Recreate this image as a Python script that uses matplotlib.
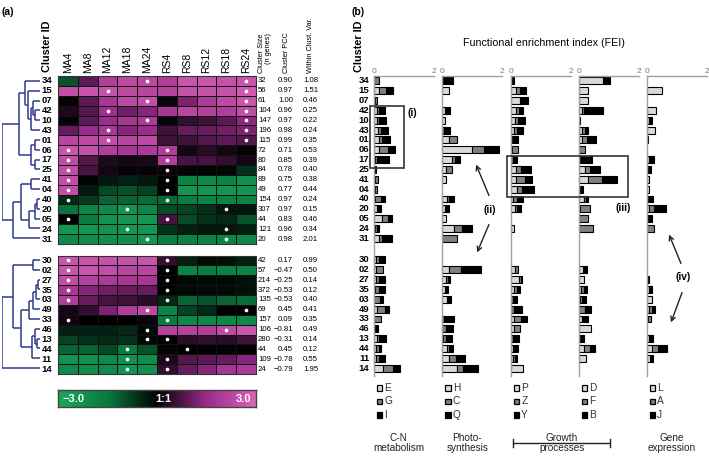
import matplotlib.pyplot as plt
import numpy as np
from matplotlib.colors import LinearSegmentedColormap
from matplotlib.patches import Rectangle

plt.rcParams['font.family'] = ['Liberation Sans', 'DejaVu Sans']

# ---- data -------------------------------------------------------------
top_ids = ['34', '15', '07', '42', '10', '43', '01', '06', '17', '25', '41', '04',
           '40', '20', '05', '24', '31']
bot_ids = ['30', '02', '27', '35', '03', '49', '33', '46', '13', '44', '11', '14']
conditions = ['MA4', 'MA8', 'MA12', 'MA18', 'MA24', 'RS4', 'RS8', 'RS12', 'RS18', 'RS24']

top_expr = [
    [-1.0, 0.9, 2.0, 2.3, 2.3, 2.0, 2.6, 2.6, 2.5, 2.6],
    [2.4, 2.6, 2.5, 2.3, 2.2, 2.1, 2.5, 2.5, 2.5, 2.7],
    [0.05, 0.9, 1.8, 2.3, 2.4, 0.1, 1.2, 1.9, 2.3, 2.6],
    [0.3, 0.8, 1.6, 1.1, 1.3, 1.8, 2.2, 2.1, 2.0, 2.4],
    [0.05, 0.9, 1.5, 1.8, 1.9, 0.1, 0.5, 0.6, 0.9, 1.4],
    [1.0, 1.5, 1.8, 1.3, 1.5, 0.6, 1.0, 1.0, 1.1, 1.2],
    [2.2, 2.3, 2.4, 2.2, 2.3, 0.6, 0.6, 0.8, 0.9, 0.8],
    [2.6, 2.5, 2.0, 1.8, 1.9, 2.0, 0.2, 0.4, 0.2, 0.05],
    [2.4, 0.8, 0.3, 0.2, 0.25, 2.0, 0.7, 0.7, 0.5, 0.2],
    [2.4, 0.7, 0.2, 0.05, 0.05, 0.1, 0.05, -0.05, -0.1, -0.6],
    [2.4, -0.05, -0.3, -0.4, -0.3, 0.0, -1.8, -2.0, -1.8, -2.2],
    [2.4, -0.3, -0.9, -1.0, -0.8, 0.0, -2.4, -2.4, -2.4, -2.4],
    [-0.5, -0.7, -1.2, -1.2, -1.3, -1.3, -1.6, -1.8, -1.8, -1.8],
    [-1.4, -1.8, -1.9, -2.3, -1.9, -0.9, -0.8, -0.6, -0.3, -0.3],
    [0.0, -1.6, -2.3, -2.4, -2.4, 0.7, -0.9, -0.6, -0.5, -1.0],
    [-2.4, -2.4, -2.3, -2.4, -2.4, -0.6, -0.4, -0.3, -0.3, -0.4],
    [-2.0, -2.1, -2.2, -2.2, -2.4, -1.6, -1.7, -1.8, -1.8, -1.9],
]
bot_expr = [
    [2.6, 2.6, 2.5, 2.5, 2.6, 0.5, -0.4, -0.1, -0.2, -0.4],
    [2.6, 2.6, 2.4, 2.2, 2.2, 0.0, -1.8, -1.6, -1.7, -1.8],
    [2.4, 2.1, 1.9, 1.8, 1.8, 0.0, -0.1, -0.1, -0.1, -0.2],
    [1.8, 1.3, 1.1, 1.0, 1.0, 0.0, -0.1, -0.1, -0.15, -0.2],
    [2.0, 1.0, 0.7, 0.6, 0.4, -0.5, -1.2, -1.0, -1.2, -1.3],
    [0.2, 0.5, 1.2, 2.0, 2.3, -1.8, -0.8, -0.5, 0.0, 0.0],
    [0.15, 0.0, 0.0, 0.0, 0.1, -1.5, -1.9, -1.9, -1.9, -1.9],
    [-0.4, -0.4, -0.4, -0.5, -0.1, 2.1, 2.1, 2.0, 2.3, 2.6],
    [-0.8, -0.6, -0.5, -0.6, -0.1, 0.0, 0.4, 0.5, 0.4, 0.6],
    [-1.2, -1.2, -0.9, -1.5, -1.0, -0.05, 0.0, 0.0, -0.05, 0.0],
    [-2.3, -2.2, -2.0, -2.2, -2.1, 0.3, 0.8, 0.9, 1.0, 1.3],
    [-2.0, -2.1, -2.0, -2.3, -2.2, 0.5, 1.0, 1.3, 1.8, 1.9],
]
# columns holding a white dot (significant time point)
top_sig = [[4, 9], [2, 9], [4, 9], [2, 9], [4, 9], [2, 9], [2, 9], [0, 5], [0, 5],
           [0, 5], [0, 5], [0, 5], [0, 5], [3, 8], [0, 5], [3, 8], [4, 8]]
bot_sig = [[0, 5], [0, 5], [0, 5], [0, 5], [0, 5], [4, 9], [0, 5], [4, 8], [4, 5],
           [3, 6], [3, 5], [3, 5]]

top_size = [32, 56, 61, 104, 147, 196, 115, 72, 80, 84, 89, 49, 154, 307, 44, 121, 20]
top_pcc = [0.90, 0.97, 1.00, 0.96, 0.97, 0.98, 0.99, 0.71, 0.85, 0.78, 0.75, 0.77,
           0.97, 0.97, 0.83, 0.96, 0.98]
top_var = [1.08, 1.51, 0.46, 0.25, 0.22, 0.24, 0.35, 0.53, 0.39, 0.40, 0.38, 0.44,
           0.24, 0.15, 0.46, 0.34, 2.01]
bot_size = [42, 57, 214, 372, 135, 69, 157, 106, 280, 44, 109, 24]
bot_pcc = [0.17, -0.47, -0.25, -0.53, -0.53, 0.45, 0.09, -0.81, -0.31, 0.45, -0.78, -0.79]
bot_var = [0.99, 0.50, 0.14, 0.12, 0.40, 0.41, 0.35, 0.49, 0.14, 0.12, 0.55, 1.95]

# dendrograms: (left, right, merge height)
top_tree = (
    (('34', ('15', (('07', ('42', '10', 0.13), 0.19), '43', 0.24), 0.32), 0.40),
     (('01', '06', 0.13), ('17', '25', 0.13), 0.24), 0.54),
    ((('41', '04', 0.24), ((('40', '20', 0.08), '05', 0.13), '24', 0.30), 0.49),
     '31', 0.70),
    1.0)
bot_tree = (
    (('30', '02', 0.19),
     (((((('27', '35', 0.05), '03', 0.11), '49', 0.19), '33', 0.30)),
      (('46', ('13', '44', 0.08), 0.13), '11', 0.22), 0.51), 0.70),
    '14', 1.0)

# functional enrichment index, order = top_ids + bot_ids
fei_E = [0, .19, .05, .10, .10, .15, .18, .18, .05, 0, .05, .04, .05, .12, .29, .05, .19,
         .08, .09, .08, .05, 0, .12, 0, .03, .10, .08, .09, .32]
fei_G = [.19, .22, .05, .07, .08, .08, .09, .29, .05, .04, .10, .07, .18, 0, .20, .05, .08,
         .09, .21, .10, .11, .22, .26, .23, 0, .08, .08, .10, .31]
fei_I = [0, .22, 0, .19, .24, .23, .27, .23, .42, .05, 0, 0, .14, .11, .13, .09, .33,
         .20, 0, .20, .22, .10, .13, 0, .12, .23, .08, .17, .24]
fei_H = [0, .22, 0, .09, .10, 0, .22, .98, .31, .14, .14, 0, .16, .09, .12, .40, 0,
         0, .22, .12, .09, .17, 0, 0, 0, .04, .17, .22, .50]
fei_C = [0, 0, 0, 0, 0, .07, .26, .41, .11, .18, 0, 0, .05, 0, 0, .27, .50,
         0, .40, .06, 0, 0, 0, .05, .14, .08, .05, .23, .20]
fei_Q = [.37, 0, 0, .16, 0, .19, 0, .51, .17, 0, 0, 0, .17, .12, 0, .31, 0,
         0, .66, .09, .09, .12, 0, .33, .22, .20, .13, .32, .50]
fei_P = [0, .18, .31, .17, .14, .12, 0, .05, 0, .17, .17, .20, .09, .14, 0, .12, 0,
         0, .14, .28, .11, 0, 0, .12, .11, 0, .09, .08, .42]
fei_Z = [0, .13, 0, .12, .11, .08, 0, .20, .07, .17, .31, .19, .11, .08, 0, 0, 0,
         0, .11, .05, .09, .08, .11, .22, .20, .08, 0, .07, 0]
fei_Y = [.12, .19, .28, .13, .24, .20, .24, 0, .13, .33, .23, .40, .20, .11, 0, 0, 0,
         0, 0, .06, .11, .12, .26, .21, 0, .21, .14, .05, 0]
fei_D = [.80, .30, .30, .10, 0, .12, .12, 0, 0, .21, .30, 0, .19, .04, 0, 0, 0,
         0, .13, .18, .07, .04, 0, .12, .40, 0, .19, .23, 0]
fei_F = [0, 0, 0, .09, 0, .09, .17, .21, 0, .17, .48, 0, .05, .34, .32, .49, 0,
         0, 0, 0, .09, .08, .21, 0, 0, 0, .17, 0, 0]
fei_B = [.24, 0, 0, .63, .04, .11, .29, 0, .43, .33, .49, .13, .06, 0, 0, 0, 0,
         0, .16, 0, .13, .11, .20, .18, 0, .16, .19, 0, 0]
fei_L = [0, .52, 0, .30, .09, .27, 0, 0, .08, 0, .09, .07, .05, .09, 0, 0, 0,
         0, 0, .05, .08, .17, .08, .04, 0, .08, .17, .11, 0]
fei_A = [0, 0, 0, 0, 0, 0, 0, 0, 0, 0, 0, 0, .03, .16, 0, .24, 0,
         0, 0, 0, 0, 0, .09, .10, 0, 0, .22, 0, 0]
fei_J = [0, 0, 0, 0, .10, 0, .03, 0, .17, .14, 0, 0, .12, .40, .17, 0, 0,
         0, 0, .04, .11, 0, .09, 0, 0, .14, .28, .11, 0]

panels = [(('E', fei_E), ('G', fei_G), ('I', fei_I)),
          (('H', fei_H), ('C', fei_C), ('Q', fei_Q)),
          (('P', fei_P), ('Z', fei_Z), ('Y', fei_Y)),
          (('D', fei_D), ('F', fei_F), ('B', fei_B)),
          (('L', fei_L), ('A', fei_A), ('J', fei_J))]
group_labels = ['C-N\nmetabolism', 'Photo-\nsynthesis', None, None, 'Gene\nexpression']

# ---- layout -----------------------------------------------------------
W, H = 709, 458
fig = plt.figure(figsize=(W / 100, H / 100), dpi=100)


def box(x0, y0, x1, y1):
    return fig.add_axes([x0 / W, 1 - y1 / H, (x1 - x0) / W, (y1 - y0) / H])


cmap = LinearSegmentedColormap.from_list(
    'gm', [(0, '#18a85e'), (0.25, '#0b7a40'), (0.5, '#000000'),
           (0.75, '#9a2a8c'), (1, '#d965b6')])
navy = '#2f3b8f'
shade = ['#d9d9d9', '#808080', '#000000']

all_ids = top_ids + bot_ids
row_pos = list(np.arange(len(top_ids))) + list(18.2 + np.arange(len(bot_ids)))
ypos = dict(zip(all_ids, row_pos))


def fmt(v):
    return f'{v:.2f}'.replace('-', '\u2212')


# heatmaps
for (y0, y1, ids, expr, sig, size, pcc, var, is_top) in [
        (76, 244, top_ids, top_expr, top_sig, top_size, top_pcc, top_var, True),
        (255.5, 374, bot_ids, bot_expr, bot_sig, bot_size, bot_pcc, bot_var, False)]:
    ax = box(58, y0, 256, y1)
    n = len(ids)
    ax.pcolormesh(np.arange(11), np.arange(n + 1), np.array(expr), cmap=cmap,
                  vmin=-3, vmax=3, edgecolors='#111111', linewidth=0.6)
    for r, cols in enumerate(sig):
        ax.scatter(np.array(cols) + 0.5, [r + 0.5] * len(cols), s=7, color='white',
                   zorder=3, linewidths=0)
    ax.set_xlim(0, 10)
    ax.set_ylim(n, 0)
    ax.set_xticks([])
    ax.set_yticks([])
    for sp in ax.spines.values():
        sp.set_linewidth(0.8)
        sp.set_color('#333333')
    for r in range(n):
        ax.text(-0.3, r + 0.5, ids[r], ha='right', va='center', fontsize=6.8,
                fontweight='bold', clip_on=False)
        ax.text(10.1, r + 0.5, str(size[r]), ha='left', va='center', fontsize=5.6)
        ax.text(11.87, r + 0.5, fmt(pcc[r]), ha='right', va='center', fontsize=5.6)
        ax.text(12.37, r + 0.5, f'{var[r]:.2f}', ha='left', va='center', fontsize=5.6)
    if is_top:
        for i, c in enumerate(conditions):
            ax.text(i + 0.5, -0.35, c, rotation=90, ha='center', va='bottom',
                    fontsize=7.5)
        ax.text(10.45, -0.35, 'Cluster Size\n(n genes)', rotation=90, ha='center',
                va='bottom', fontsize=5.3, multialignment='right', linespacing=1.0)
        ax.text(11.55, -0.35, 'Cluster PCC', rotation=90, ha='center', va='bottom',
                fontsize=5.3)
        ax.text(12.75, -0.35, 'Within Clust. Var.', rotation=90, ha='center',
                va='bottom', fontsize=5.3)

# colorbar
cax = box(58, 390, 256, 407)
cax.imshow(np.linspace(-3, 3, 256)[None, :], aspect='auto', cmap=cmap,
           extent=[-3, 3, 0, 1], vmin=-3, vmax=3)
cax.set_xticks([])
cax.set_yticks([])
for sp in cax.spines.values():
    sp.set_linewidth(1.0)
    sp.set_color('#444444')
cax.text(-2.85, 0.5, '\u22123.0', color='white', fontsize=8, fontweight='bold',
         ha='left', va='center')
cax.text(0.2, 0.5, '1:1', color='white', fontsize=8, fontweight='bold',
         ha='center', va='center')
cax.text(2.85, 0.5, '3.0', color='white', fontsize=8, fontweight='bold',
         ha='right', va='center')

# dendrograms
dax = box(2, 76, 40, 376)


def draw_tree(node):
    if isinstance(node, str):
        return ypos[node], 0.0
    left, right, h = node
    ya, ha = draw_tree(left)
    yb, hb = draw_tree(right)
    dax.plot([ha, h], [ya, ya], color=navy, lw=1.1, solid_capstyle='butt')
    dax.plot([hb, h], [yb, yb], color=navy, lw=1.1, solid_capstyle='butt')
    dax.plot([h, h], [ya, yb], color=navy, lw=1.1, solid_capstyle='butt')
    return (ya + yb) / 2, h


draw_tree(top_tree)
draw_tree(bot_tree)
dax.set_xlim(1.0, 0)
dax.set_ylim(30.0, -0.5)
dax.axis('off')

# FEI bar panels
panel_x = [373.7, 442.2, 510.7, 578.7, 646.7]
for p, (x0, segs) in enumerate(zip(panel_x, panels)):
    ax = box(x0, 76, x0 + 60, 376)
    left = np.zeros(len(all_ids))
    for k, (name, vals) in enumerate(segs):
        vals = np.array(vals, dtype=float)
        m = vals > 0
        ax.barh(np.array(row_pos)[m], vals[m], left=left[m], height=0.7,
                color=shade[k], edgecolor='black', linewidth=0.8, clip_on=False)
        left += vals
    ax.set_xlim(0, 2)
    ax.set_ylim(30.0, -0.5)
    ax.xaxis.tick_top()
    ax.set_xticks([0, 2])
    ax.set_xticklabels(['0', '2'], fontsize=6, color='#777777')
    ax.tick_params(axis='x', length=0, pad=1)
    ax.set_yticks([])
    for s in ['right', 'bottom']:
        ax.spines[s].set_visible(False)
    for s in ['top', 'left']:
        ax.spines[s].set_color('#a0a0a0')
        ax.spines[s].set_linewidth(1.0)
    if p == 0:
        for cid, yy in zip(all_ids, row_pos):
            ax.text(-0.15, yy, cid, ha='right', va='center', fontsize=6.8,
                    fontweight='bold', clip_on=False)

# overlay for labels, boxes, arrows and legend keys
ov = fig.add_axes([0, 0, 1, 1])
ov.set_xlim(0, W)
ov.set_ylim(H, 0)
ov.axis('off')

ov.text(2, 12, '(a)', fontsize=7.5, fontweight='bold', va='center')
ov.text(352, 12, '(b)', fontsize=7.5, fontweight='bold', va='center')
ov.text(47, 72, 'Cluster ID', rotation=90, ha='center', va='bottom', fontsize=7.8,
        fontweight='bold')
ov.text(359, 72, 'Cluster ID', rotation=90, ha='center', va='bottom', fontsize=7.8,
        fontweight='bold')
ov.text(544, 43, 'Functional enrichment index (FEI)', ha='center', va='center',
        fontsize=7.7)

ov.add_patch(Rectangle((370, 106), 34, 62, fill=False, lw=1.2, ec='#333333'))
ov.add_patch(Rectangle((507, 156), 121, 41, fill=False, lw=1.2, ec='#333333'))
ov.text(408, 113, '(i)', fontsize=7.3, fontweight='bold', va='center')
ov.text(490, 210, '(ii)', fontsize=7.3, fontweight='bold', va='center', ha='center')
ov.text(623, 208, '(iii)', fontsize=7.3, fontweight='bold', va='center', ha='center')
ov.text(683, 277, '(iv)', fontsize=7.3, fontweight='bold', va='center', ha='center')
arrow = dict(arrowstyle='->', lw=1.0, color='#222222', mutation_scale=8)
ov.annotate('', xy=(475, 162), xytext=(490, 198), arrowprops=arrow)
ov.annotate('', xy=(476, 255), xytext=(490, 222), arrowprops=arrow)
ov.annotate('', xy=(668, 232), xytext=(682, 266), arrowprops=arrow)
ov.annotate('', xy=(670, 325), xytext=(683, 290), arrowprops=arrow)

for p, (x0, segs) in enumerate(zip(panel_x, panels)):
    for k, (name, vals) in enumerate(segs):
        yy = 388 + 13.5 * k
        ov.add_patch(Rectangle((x0 + 3, yy - 2.8), 5.6, 5.6, fc=shade[k], ec='black',
                               lw=0.9))
        ov.text(x0 + 10.5, yy, name, fontsize=7.3, va='center', ha='left',
                color='#333333')
    if group_labels[p]:
        ov.text(x0 + 25, 443, group_labels[p], ha='center', va='center', fontsize=7.2,
                linespacing=1.1, color='#222222')
gx = (panel_x[2] + panel_x[3]) / 2 + 17
ov.text(gx, 443, 'Growth\nprocesses', ha='center', va='center', fontsize=7.2,
        linespacing=1.1, color='#222222')
ov.plot([513, 610], [443, 443], color='#222222', lw=1.0)
ov.plot([513, 513], [439, 447], color='#222222', lw=1.0)
ov.plot([610, 610], [439, 447], color='#222222', lw=1.0)

fig.savefig('out.png', dpi=100)
